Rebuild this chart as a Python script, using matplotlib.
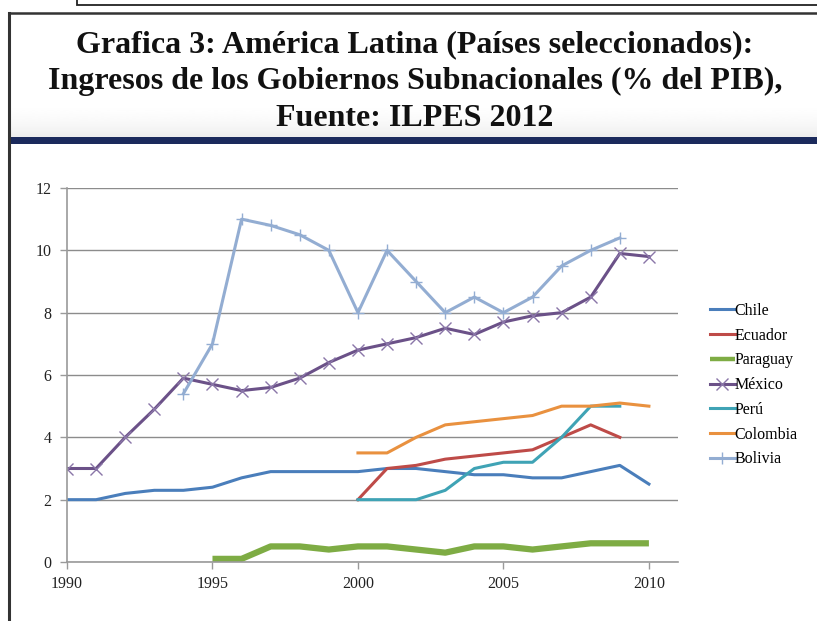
import numpy as np
import matplotlib
matplotlib.use("Agg")
import matplotlib.pyplot as plt
from matplotlib.lines import Line2D
from matplotlib.patches import Rectangle

# Ingresos de los gobiernos subnacionales, % del PIB
years = list(range(1990, 2011))

chile = [2.0, 2.0, 2.2, 2.3, 2.3, 2.4, 2.7, 2.9, 2.9, 2.9, 2.9,
         3.0, 3.0, 2.9, 2.8, 2.8, 2.7, 2.7, 2.9, 3.1, 2.5]
ecuador_years = list(range(2000, 2010))
ecuador = [2.0, 3.0, 3.1, 3.3, 3.4, 3.5, 3.6, 4.0, 4.4, 4.0]
paraguay_years = list(range(1995, 2011))
paraguay = [0.1, 0.1, 0.5, 0.5, 0.4, 0.5, 0.5, 0.4, 0.3, 0.5, 0.5,
            0.4, 0.5, 0.6, 0.6, 0.6]
mexico = [3.0, 3.0, 4.0, 4.9, 5.9, 5.7, 5.5, 5.6, 5.9, 6.4, 6.8,
          7.0, 7.2, 7.5, 7.3, 7.7, 7.9, 8.0, 8.5, 9.9, 9.8]
peru_years = list(range(2000, 2010))
peru = [2.0, 2.0, 2.0, 2.3, 3.0, 3.2, 3.2, 4.0, 5.0, 5.0]
colombia_years = list(range(2000, 2011))
colombia = [3.5, 3.5, 4.0, 4.4, 4.5, 4.6, 4.7, 5.0, 5.0, 5.1, 5.0]
bolivia_years = list(range(1994, 2010))
bolivia = [5.4, 7.0, 11.0, 10.8, 10.5, 10.0, 8.0, 10.0, 9.0, 8.0, 8.5,
           8.0, 8.5, 9.5, 10.0, 10.4]

title_lines = ["Grafica 3: América Latina (Países seleccionados):",
               "Ingresos de los Gobiernos Subnacionales (% del PIB),",
               "Fuente: ILPES 2012"]

W, H = 817, 621
fig = plt.figure(figsize=(W / 100, H / 100), dpi=100)
fig.patch.set_facecolor("white")

# slide background: frame, title and navy rule, in pixel coordinates
bg = fig.add_axes([0, 0, 1, 1], zorder=0)
bg.set_xlim(0, W)
bg.set_ylim(H, 0)
bg.axis("off")

grad = np.linspace(0, 1, 100)[:, None] ** 2
bg.imshow(1 - 0.07 * grad, cmap="gray", vmin=0, vmax=1, aspect="auto",
          extent=[10, W, 137, 100], zorder=0)
bg.add_patch(Rectangle((77, -5), W, 10, fill=False, ec="#222222", lw=1.3))
bg.add_line(Line2D([9.5, 9.5], [13, H], color="#333333", lw=2.2))
bg.add_line(Line2D([9, W], [13, 13], color="#333333", lw=1.8))
bg.add_patch(Rectangle((10, 137), W, 7, color="#1b2a5c", lw=0))

for i, line in enumerate(title_lines):
    bg.text(415, 52 + 37 * i, line, ha="center", va="baseline",
            family="Liberation Serif", weight="bold", fontsize=23,
            color="#111111", zorder=2)

ax = fig.add_axes([67 / W, 1 - 562 / H, (678 - 67) / W, (562 - 188) / H],
                  zorder=2)
ax.patch.set_alpha(0)

lw = 2.2
ax.plot(years, chile, color="#4a7ebb", lw=lw, label="Chile")
ax.plot(ecuador_years, ecuador, color="#be4b48", lw=lw, label="Ecuador")
ax.plot(paraguay_years, paraguay, color="#7eac44", lw=4.5, label="Paraguay",
        solid_capstyle="butt")
ax.plot(years, mexico, color="#6b5188", lw=lw, marker="x", ms=8, mew=1.0,
        mec="#8a76a8", label="México")
ax.plot(peru_years, peru, color="#3fa3b5", lw=lw, label="Perú")
ax.plot(colombia_years, colombia, color="#e9913f", lw=lw, label="Colombia")
ax.plot(bolivia_years, bolivia, color="#93add2", lw=lw, marker="+", ms=9,
        mew=1.0, label="Bolivia")

ax.set_xlim(1990, 2011)
ax.set_ylim(0, 12)
ax.set_xticks([1990, 1995, 2000, 2005, 2010])
ax.set_yticks(range(0, 13, 2))
ax.grid(axis="y", color="#8c8c8c", lw=1)
ax.set_axisbelow(True)
for s in ["top", "right"]:
    ax.spines[s].set_visible(False)
for s in ["left", "bottom"]:
    ax.spines[s].set_color("#9a9a9a")
    ax.spines[s].set_linewidth(1.2)
ax.tick_params(length=5, width=1, color="#9a9a9a", labelsize=11.5,
               labelcolor="#222222")
ax.tick_params(axis="y", pad=6)
ax.tick_params(axis="x", pad=5)
for lab in ax.get_xticklabels() + ax.get_yticklabels():
    lab.set_family("Liberation Serif")

leg = ax.legend(loc="center left", bbox_to_anchor=(1.052, 0.473),
                frameon=False, borderaxespad=0, borderpad=0,
                handlelength=1.55, handletextpad=0.0, labelspacing=0.55,
                prop={"family": "Liberation Serif", "size": 11.5})
for h, txt in zip(leg.legend_handles, leg.get_texts()):
    h.set_linewidth(3.2 if txt.get_text() == "Paraguay" else 2.2)

fig.savefig("out.png", dpi=100)
